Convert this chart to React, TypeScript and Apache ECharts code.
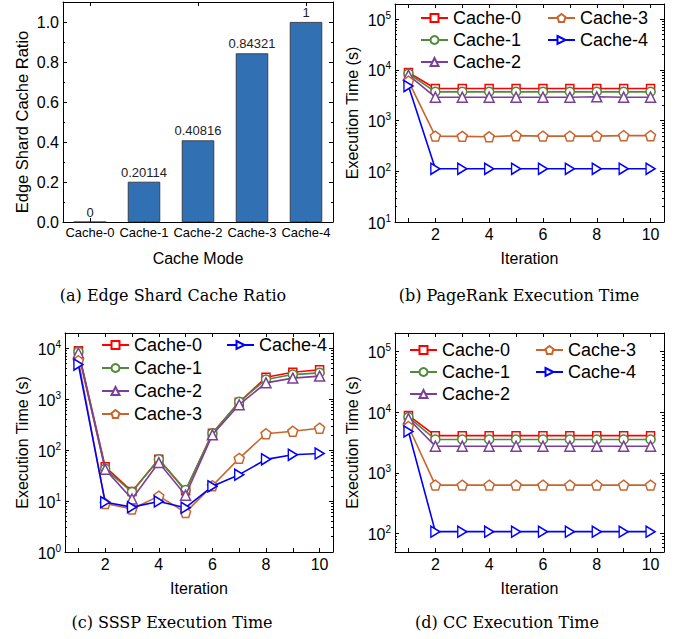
import React, { useEffect, useRef } from 'react';
import * as echarts from 'echarts';

// ---------- data ----------
const cacheModes = ['Cache-0', 'Cache-1', 'Cache-2', 'Cache-3', 'Cache-4'];
const shardRatio = [0, 0.20114, 0.40816, 0.84321, 1];
const ratioTicks = [0, 0.2, 0.4, 0.6, 0.8, 1.0];
const ratioMinorTicks = [0.1, 0.3, 0.5, 0.7, 0.9];

const iterations = [1, 2, 3, 4, 5, 6, 7, 8, 9, 10];
const iterTickLabels = [2, 4, 6, 8, 10];

// PageRank execution time (s)
const prCache0 = [8900, 4300, 4300, 4300, 4300, 4300, 4300, 4300, 4300, 4300];
const prCache1 = [8500, 3700, 3700, 3700, 3700, 3700, 3700, 3700, 3700, 3700];
const prCache2 = [7900, 2900, 2900, 2900, 2900, 2900, 2900, 2950, 2900, 2900];
const prCache3 = [6000, 495, 490, 480, 505, 495, 495, 495, 505, 505];
const prCache4 = [4800, 112, 112, 112, 112, 112, 112, 112, 112, 112];
const prDecades = [10, 100, 1000, 10000, 100000];

// SSSP execution time (s)
const ssspCache0 = [9000, 47, 15.5, 66, 16, 215, 870, 2700, 3400, 3800];
const ssspCache1 = [8600, 43, 15, 66, 16.5, 215, 890, 2450, 3050, 3300];
const ssspCache2 = [8100, 42, 11, 57, 13, 200, 780, 2100, 2600, 2850];
const ssspCache3 = [5700, 9, 7, 12.5, 6, 20, 69, 210, 235, 270];
const ssspCache4 = [4800, 9.5, 7.6, 9.8, 7.4, 19.5, 33, 66, 81, 86];
const ssspDecades = [1, 10, 100, 1000, 10000];

// CC execution time (s)
const ccCache0 = [8800, 4100, 4100, 4100, 4100, 4100, 4100, 4100, 4100, 4100];
const ccCache1 = [8300, 3550, 3550, 3550, 3550, 3550, 3550, 3550, 3550, 3550];
const ccCache2 = [7800, 2750, 2750, 2750, 2750, 2750, 2750, 2750, 2750, 2750];
const ccCache3 = [5800, 630, 630, 630, 630, 630, 630, 630, 630, 630];
const ccCache4 = [4800, 108, 108, 108, 108, 108, 108, 108, 108, 108];
const ccDecades = [100, 1000, 10000, 100000];

const captions = [
  '(a) Edge Shard Cache Ratio',
  '(b) PageRank Execution Time',
  '(c) SSSP Execution Time',
  '(d) CC Execution Time',
];

// ---------- styles ----------
const F = "'Liberation Sans', Arial, Helvetica, sans-serif";
const SERIF = "'DejaVu Serif', 'Liberation Serif', serif";
const PENTAGON = 'path://M0,-1 L0.951,-0.309 L0.588,0.809 L-0.588,0.809 L-0.951,-0.309 Z';
const RIGHT_TRI = 'path://M0,0 L1,0.5 L0,1 Z';

const lineStyles = [
  { color: '#ff0000', symbol: 'rect', size: 8 },
  { color: '#528a3c', symbol: 'circle', size: 9 },
  { color: '#7b3f99', symbol: 'triangle', size: 10 },
  { color: '#c8652c', symbol: PENTAGON, size: 10 },
  { color: '#0000ff', symbol: RIGHT_TRI, size: [9, 11] },
];

const grids = [
  { left: 63, top: 2, width: 270, height: 220 },
  { left: 395, top: 4, width: 269, height: 218 },
  { left: 65, top: 333, width: 268, height: 219 },
  { left: 395, top: 333, width: 269, height: 219 },
];

const txt = { fontFamily: F, color: '#000' };

function minorLog(decades: number[], min: number, max: number) {
  const out: number[] = [];
  const start = decades[0] / 10;
  for (let d = start; d <= max; d *= 10) {
    for (let k = 2; k <= 9; k++) {
      const v = k * d;
      if (v > min && v < max) out.push(v);
    }
  }
  return out;
}

const supLabel = {
  formatter: (v: number) => `{b|10}{s|${Math.round(Math.log10(v))}}`,
  rich: {
    b: { fontSize: 16, fontFamily: F, color: '#000', lineHeight: 18, verticalAlign: 'bottom' },
    s: { fontSize: 10, fontFamily: F, color: '#000', lineHeight: 10, verticalAlign: 'top' },
  },
};

function iterXAxes(gridIndex: number) {
  const common: any = {
    type: 'value',
    gridIndex,
    min: 0.5,
    max: 10.5,
    splitLine: { show: false },
    axisLine: { show: true, onZero: false, lineStyle: { color: '#000', width: 1 } },
    axisTick: { show: true, inside: true, length: 4, customValues: iterations, lineStyle: { color: '#000' } },
  };
  return [
    {
      ...common,
      position: 'bottom',
      name: 'Iteration',
      nameLocation: 'middle',
      nameGap: 28,
      nameTextStyle: { ...txt, fontSize: 16 },
      axisLabel: { show: true, customValues: iterTickLabels, fontSize: 16, margin: 4, ...txt },
    },
    { ...common, position: 'top', axisLabel: { show: false } },
  ];
}

function logYAxes(gridIndex: number, min: number, max: number, decades: number[]) {
  const common: any = {
    type: 'log',
    logBase: 10,
    gridIndex,
    min,
    max,
    splitLine: { show: false },
    minorSplitLine: { show: false },
  };
  const minors = minorLog(decades, min, max);
  const major = { show: true, inside: true, length: 4, customValues: decades, lineStyle: { color: '#000' } };
  const minor = { show: true, inside: true, length: 2, customValues: minors, lineStyle: { color: '#000' } };
  return [
    {
      ...common,
      position: 'left',
      name: 'Execution Time (s)',
      nameLocation: 'middle',
      nameGap: 35,
      nameTextStyle: { ...txt, fontSize: 16 },
      axisLine: { show: true, onZero: false, lineStyle: { color: '#000', width: 1 } },
      axisTick: major,
      axisLabel: { show: true, customValues: decades, margin: 4, ...supLabel },
    },
    { ...common, position: 'left', axisLine: { show: false }, axisTick: minor, axisLabel: { show: false } },
    {
      ...common,
      position: 'right',
      axisLine: { show: true, onZero: false, lineStyle: { color: '#000', width: 1 } },
      axisTick: major,
      axisLabel: { show: false },
    },
    { ...common, position: 'right', axisLine: { show: false }, axisTick: minor, axisLabel: { show: false } },
  ];
}

function lineSeries(gridIndex: number, sets: number[][]) {
  return sets.map((vals, i) => {
    const st = lineStyles[i];
    return {
      type: 'line',
      name: cacheModes[i],
      xAxisIndex: gridIndex * 2,
      yAxisIndex: gridIndex * 4,
      data: iterations.map((it, k) => [it, vals[k]]),
      symbol: st.symbol,
      symbolSize: st.size,
      showAllSymbol: true,
      color: st.color,
      lineStyle: { color: st.color, width: 1.6 },
      itemStyle: { color: '#ffffff', borderColor: st.color, borderWidth: 1.5 },
      z: 2 + i,
    };
  });
}

function legends(left1: number, left2: number, top: number, gap: number, col1: string[], col2: string[]) {
  const base: any = {
    orient: 'vertical',
    top,
    itemWidth: 27,
    itemHeight: 10,
    itemGap: gap,
    selectedMode: false,
    padding: 0,
    textStyle: { ...txt, fontSize: 18 },
  };
  return [
    { ...base, left: left1, data: col1 },
    { ...base, left: left2, data: col2 },
  ];
}

function buildOption() {
  const catAxisCommon: any = {
    type: 'category',
    gridIndex: 0,
    data: cacheModes,
    axisLine: { show: true, onZero: false, lineStyle: { color: '#000', width: 1 } },
    axisTick: { show: true, inside: true, alignWithLabel: true, length: 4, lineStyle: { color: '#000' } },
  };
  const ratioCommon: any = {
    type: 'value',
    gridIndex: 0,
    min: 0,
    max: 1.1,
    splitLine: { show: false },
  };
  const ratioMajor = { show: true, inside: true, length: 4, customValues: ratioTicks, lineStyle: { color: '#000' } };
  const ratioMinor = { show: true, inside: true, length: 2, customValues: ratioMinorTicks, lineStyle: { color: '#000' } };

  const xAxis: any[] = [
    {
      ...catAxisCommon,
      position: 'bottom',
      name: 'Cache Mode',
      nameLocation: 'middle',
      nameGap: 28,
      nameTextStyle: { ...txt, fontSize: 16 },
      axisLabel: { show: true, interval: 0, fontSize: 13, margin: 4, ...txt },
    },
    { ...catAxisCommon, position: 'top', axisLabel: { show: false } },
    ...iterXAxes(1),
    ...iterXAxes(2),
    ...iterXAxes(3),
  ];

  const yAxis: any[] = [
    {
      ...ratioCommon,
      position: 'left',
      name: 'Edge Shard Cache Ratio',
      nameLocation: 'middle',
      nameGap: 33,
      nameTextStyle: { ...txt, fontSize: 16.5, padding: [0, 20, 0, 0] },
      axisLine: { show: true, onZero: false, lineStyle: { color: '#000', width: 1 } },
      axisTick: ratioMajor,
      axisLabel: {
        show: true,
        customValues: ratioTicks,
        fontSize: 16,
        margin: 4,
        formatter: (v: number) => v.toFixed(1),
        ...txt,
      },
    },
    { ...ratioCommon, position: 'left', axisLine: { show: false }, axisTick: ratioMinor, axisLabel: { show: false } },
    {
      ...ratioCommon,
      position: 'right',
      axisLine: { show: true, onZero: false, lineStyle: { color: '#000', width: 1 } },
      axisTick: ratioMajor,
      axisLabel: { show: false },
    },
    { ...ratioCommon, position: 'right', axisLine: { show: false }, axisTick: ratioMinor, axisLabel: { show: false } },
    ...logYAxes(1, 10, 200000, prDecades),
    ...logYAxes(2, 1, 20000, ssspDecades),
    ...logYAxes(3, 50, 200000, ccDecades),
  ];

  const series: any[] = [
    {
      type: 'bar',
      name: 'Edge Shard Cache Ratio',
      xAxisIndex: 0,
      yAxisIndex: 0,
      data: shardRatio,
      barWidth: '60%',
      itemStyle: { color: '#3171b3', borderColor: '#2a2a2a', borderWidth: 0.8 },
      label: { show: true, position: 'top', distance: 3, fontSize: 13, ...txt, color: '#222' },
    },
    ...lineSeries(1, [prCache0, prCache1, prCache2, prCache3, prCache4]),
    ...lineSeries(2, [ssspCache0, ssspCache1, ssspCache2, ssspCache3, ssspCache4]),
    ...lineSeries(3, [ccCache0, ccCache1, ccCache2, ccCache3, ccCache4]),
  ];

  const capPos = [
    [173, 295],
    [519, 295],
    [172, 622],
    [507, 622],
  ];

  return {
    animation: false,
    backgroundColor: '#ffffff',
    grid: grids,
    xAxis,
    yAxis,
    series,
    legend: [
      ...legends(420, 547, 9, 4, ['Cache-0', 'Cache-1', 'Cache-2'], ['Cache-3', 'Cache-4']),
      ...legends(101, 226, 336, 5, ['Cache-0', 'Cache-1', 'Cache-2', 'Cache-3'], ['Cache-4']),
      ...legends(409, 535, 341, 4, ['Cache-0', 'Cache-1', 'Cache-2'], ['Cache-3', 'Cache-4']),
    ],
    graphic: captions.map((t, i) => ({
      type: 'text',
      x: capPos[i][0],
      y: capPos[i][1],
      style: {
        text: t,
        fontSize: 16,
        fontFamily: SERIF,
        fill: '#000',
        align: 'center',
        verticalAlign: 'middle',
      },
    })),
  };
}

export default function App() {
  const ref = useRef<HTMLDivElement>(null);
  useEffect(() => {
    document.body.style.margin = '0';
    if (!ref.current) return;
    const chart = echarts.init(ref.current, null, { renderer: 'svg' });
    chart.setOption(buildOption() as any);
    return () => chart.dispose();
  }, []);
  return <div ref={ref} style={{ width: 683, height: 639 }} />;
}
